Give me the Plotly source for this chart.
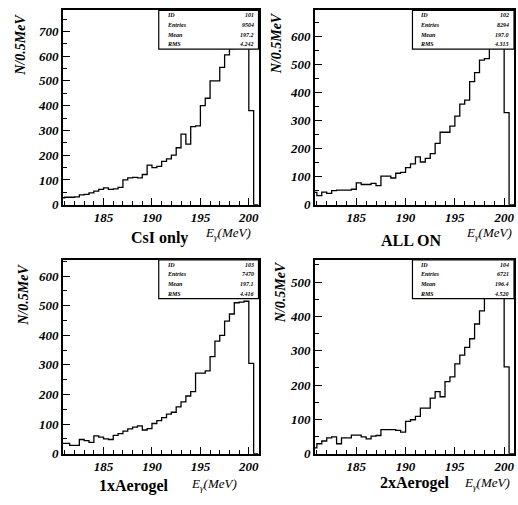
import plotly.graph_objects as go

# ---------------- data ----------------
bin_width = 0.5
first_edge = 180.5

csi_only = [28, 30, 30, 32, 40, 42, 48, 55, 62, 68, 62, 64, 70, 100, 108, 110, 108, 122,
            160, 150, 155, 175, 185, 200, 230, 285, 245, 315, 318, 400, 430, 500, 500,
            555, 605, 630, 660, 710, 740, 380, 0]
all_on = [44, 32, 45, 40, 50, 52, 52, 52, 55, 78, 72, 72, 76, 68, 102, 102, 95, 112,
          115, 132, 145, 170, 152, 165, 182, 218, 258, 258, 280, 315, 358, 372, 438,
          470, 515, 520, 605, 640, 600, 328, 0]
aerogel_1x = [35, 35, 28, 28, 48, 44, 38, 60, 56, 50, 48, 62, 68, 76, 84, 90, 94, 80,
              85, 102, 112, 122, 134, 140, 158, 175, 195, 210, 272, 272, 280, 328, 380,
              400, 448, 472, 510, 512, 515, 305, 0]
aerogel_2x = [17, 29, 37, 46, 49, 29, 46, 46, 54, 54, 49, 43, 51, 53, 70, 70, 70, 68,
              63, 94, 99, 109, 133, 133, 162, 181, 166, 210, 224, 262, 287, 310, 335,
              378, 416, 470, 488, 510, 495, 253, 0]

panel_names = ["CsI only", "ALL ON", "1xAerogel", "2xAerogel"]
stat_ids = ["101", "102", "103", "104"]
stat_entries = ["9504", "8294", "7470", "6721"]
stat_means = ["197.2", "197.0", "197.1", "196.4"]
stat_rms = ["4.242", "4.313", "4.416", "4.520"]
y_max = [785, 692, 655, 565]
x_ticks = [185, 190, 195, 200]
x_range = [180.8, 201.0]

series = [csi_only, all_on, aerogel_1x, aerogel_2x]

# ---------------- layout geometry ----------------
W, H = 518, 505
dom_x = [[63 / W, 259 / W], [315.5 / W, 515 / W]]
dom_y = [[(H - 208) / H, (H - 10.5) / H], [(H - 461) / H, (H - 264) / H]]

serif = "Liberation Serif"
fig = go.Figure()

for k, vals in enumerate(series):
    r, c = divmod(k, 2)
    n = k + 1
    xs = [first_edge + i * bin_width for i in range(len(vals))]
    xs.append(xs[-1] + bin_width)
    ys = list(vals) + [vals[-1]]
    fig.add_trace(go.Scatter(
        x=xs, y=ys, mode="lines", line=dict(color="black", width=1.3, shape="hv"),
        xaxis=f"x{n}", yaxis=f"y{n}", showlegend=False, hoverinfo="skip"))

    ax = dict(domain=dom_x[c], anchor=f"y{n}", range=x_range, tickvals=x_ticks,
              ticks="inside", ticklen=7, tickwidth=1.2, tickcolor="black",
              minor=dict(dtick=1, ticks="inside", ticklen=4, tickwidth=1, tickcolor="black"),
              showline=True, linecolor="black", linewidth=1.6, mirror=True,
              showgrid=False, zeroline=False,
              tickfont=dict(family=serif, size=13, color="black", weight="bold", style="italic"))
    ay = dict(domain=dom_y[r], anchor=f"x{n}", range=[0, y_max[k]], dtick=100,
              ticks="inside", ticklen=7, tickwidth=1.2, tickcolor="black",
              minor=dict(dtick=50, ticks="inside", ticklen=4, tickwidth=1, tickcolor="black"),
              showline=True, linecolor="black", linewidth=1.6, mirror=True,
              showgrid=False, zeroline=False,
              tickfont=dict(family=serif, size=13, color="black", weight="bold", style="italic"))
    fig.layout[f"xaxis{n}" if n > 1 else "xaxis"] = ax
    fig.layout[f"yaxis{n}" if n > 1 else "yaxis"] = ay

    # stat box
    xr = f"x{n} domain" if n > 1 else "x domain"
    yr = f"y{n} domain" if n > 1 else "y domain"
    fig.add_shape(type="rect", xref=xr, yref=yr, x0=0.49, x1=1.0, y0=0.80, y1=1.0,
                  fillcolor="white", line=dict(color="black", width=1.2), layer="above")
    labels = ["ID", "Entries", "Mean", "RMS"]
    values = [stat_ids[k], stat_entries[k], stat_means[k], stat_rms[k]]
    for j in range(4):
        yy = 0.975 - j * 0.05
        fig.add_annotation(xref=xr, yref=yr, x=0.52, y=yy, text=labels[j],
                           showarrow=False, xanchor="left", yanchor="middle",
                           font=dict(family=serif, size=6, color="black",
                                     weight="bold", style="italic"))
        fig.add_annotation(xref=xr, yref=yr, x=0.985, y=yy, text=values[j],
                           showarrow=False, xanchor="right", yanchor="middle",
                           font=dict(family=serif, size=6, color="black",
                                     weight="bold", style="italic"))

# y-axis titles
ylab_pos = [(21, 12), (277, 10), (24, 266), (281, 263)]
for (px, py) in ylab_pos:
    fig.add_annotation(xref="paper", yref="paper", x=px / W, y=(H - py) / H,
                       text="N/0.5MeV", textangle=-90, showarrow=False,
                       xanchor="center", yanchor="top",
                       font=dict(family=serif, size=14, color="black",
                                 weight="bold", style="italic"))

# panel names and x titles
name_pos = [(160, 242), (412, 244), (134, 494), (416, 491)]
etitle_pos = [(228, 237), (490, 237), (214, 492), (488, 491)]
for k in range(4):
    px, py = name_pos[k]
    fig.add_annotation(xref="paper", yref="paper", x=px / W, y=(H - py) / H,
                       text=panel_names[k], showarrow=False,
                       xanchor="center", yanchor="middle",
                       font=dict(family=serif, size=16, color="black", weight="bold"))
    ex, ey = etitle_pos[k]
    fig.add_annotation(xref="paper", yref="paper", x=ex / W, y=(H - ey) / H,
                       text="E<sub>γ</sub>(MeV)", showarrow=False,
                       xanchor="center", yanchor="middle",
                       font=dict(family=serif, size=13, color="black", style="italic"))

fig.update_layout(width=W, height=H, margin=dict(l=0, r=0, t=0, b=0),
                  paper_bgcolor="white", plot_bgcolor="white", showlegend=False)

fig.write_html("out.html", config={"displayModeBar": False},
               post_script="document.body.style.margin='0px';"
                           "document.body.style.overflow='hidden';")
